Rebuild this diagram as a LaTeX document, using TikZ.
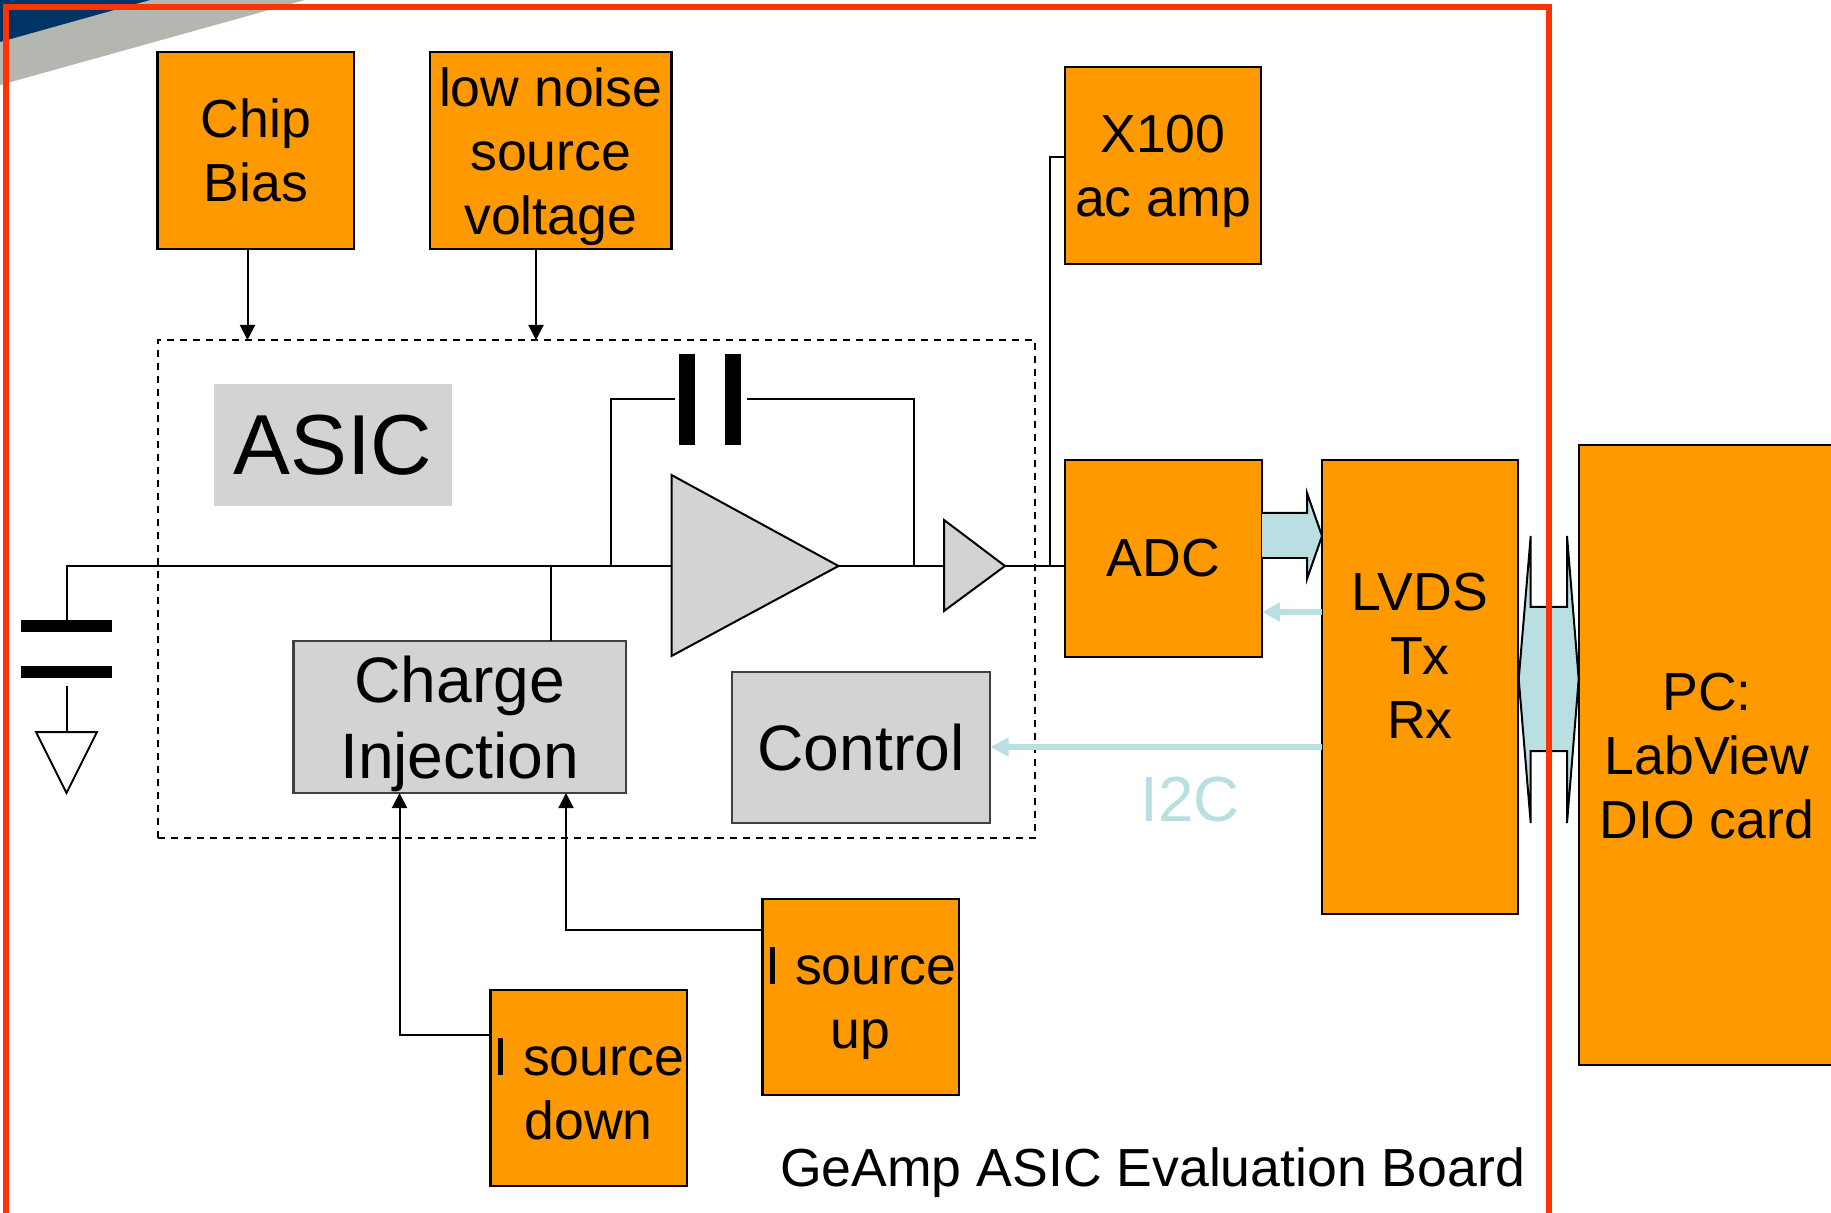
\documentclass[tikz,border=0pt]{standalone}
\usepackage{fontspec}
\setmainfont{Liberation Sans}
\usetikzlibrary{arrows.meta,calc}
\definecolor{boxorange}{HTML}{FF9900}
\definecolor{boxgray}{HTML}{D3D3D3}
\definecolor{palebus}{HTML}{B9DFE3}
\definecolor{framered}{HTML}{FF3300}
\definecolor{navy}{HTML}{003366}
\definecolor{stripe}{HTML}{B4B6B0}
\tikzset{
  x=0.5pt,y=-0.5pt,
  wire/.style={draw=black,line width=1pt},
  tipwire/.style={wire,-{Triangle[length=7.5pt,width=7.5pt]}},
  orangebox/.style={draw=black,line width=1.1pt,fill=boxorange,inner sep=0pt,outer sep=0pt,align=center,font=\fontsize{26.8}{32}\selectfont},
  graybox/.style={draw=black!75,line width=1.1pt,fill=boxgray,inner sep=0pt,outer sep=0pt,align=center,font=\fontsize{32.1}{38}\selectfont},
  bigtext/.style={inner sep=0pt,align=center,font=\fontsize{26.8}{32}\selectfont},
  chargetext/.style={inner sep=0pt,align=center,font=\fontsize{32.1}{38}\selectfont},
  tri/.style={draw=black,line width=1pt,fill=boxgray,line join=miter},
  thinbus/.style={draw=palebus,line width=3pt,-{Triangle[length=9pt,width=9pt]}},
  busarrow/.style={draw=black,line width=1pt,fill=palebus,line join=miter},
  capbar/.style={fill=black},
}
\begin{document}
\begin{tikzpicture}
\useasboundingbox (0,0) rectangle (1831,1213);
% slide background corner
\fill[stripe] (0,0) -- (305,0) -- (0,85) -- cycle;
\fill[navy] (0,0) -- (150,0) -- (0,42) -- cycle;
% dashed ASIC outline
\node[draw=black,line width=0.95pt,dash pattern=on 3.5pt off 3pt,inner sep=0pt,outer sep=0pt,minimum width=438.5pt,minimum height=249pt] (asic) at (596.5,589) {};
\node[fill=boxgray,inner sep=0pt,outer sep=0pt,minimum width=119pt,minimum height=61pt,font=\fontsize{42.6}{50}\selectfont] (asiclabel) at (333,445) {ASIC};
% boxes
\node[orangebox,minimum width=98.25pt,minimum height=98.5pt] (chip) at (255.75,150.5) {Chip\\Bias};
\node[orangebox,minimum width=120.75pt,minimum height=98.5pt] (noise) at (550.75,150.5) {};
\node[bigtext] (noisetext) at (550.75,156.5) {low noise\\source\\voltage};
\node[orangebox,minimum width=98pt,minimum height=98.5pt] (x100) at (1163,165.5) {};
\node[bigtext] (x100text) at (1163,171.5) {X100\\ac amp};
\node[orangebox,minimum width=98.5pt,minimum height=98.5pt] (adc) at (1163.5,558.5) {ADC};
\node[orangebox,minimum width=98pt,minimum height=227pt] (lvds) at (1420,687) {};
\node[bigtext] (lvdstext) at (1420,656) {LVDS\\Tx\\Rx};
\node[orangebox,minimum width=130pt,minimum height=310pt] (pc) at (1709,755) {};
\node[bigtext] (pctext) at (1707,756) {PC:\\LabView\\DIO card};
\node[graybox,minimum width=166.25pt,minimum height=76pt] (charge) at (459.75,717) {};
\node[chargetext] (chargetext) at (459.75,724) {Charge\\Injection};
\node[graybox,minimum width=129pt,minimum height=75.5pt] (control) at (861,747.5) {Control};
\node[orangebox,minimum width=98.25pt,minimum height=98pt] (isup) at (860.75,997) {};
\node[bigtext] (isuptext) at (860.75,1004) {I source\\up};
\node[orangebox,minimum width=98.25pt,minimum height=98pt] (isdown) at (588.75,1088) {};
\node[bigtext] (isdowntext) at (588.75,1089) {I source\\down};
% amplifiers as named corners
\coordinate (ampA) at (671.5,475);
\coordinate (ampB) at (671.5,656);
\coordinate (ampTip) at (838.5,566);
\coordinate (bufA) at (944,520);
\coordinate (bufB) at (944,611);
\coordinate (bufTip) at (1005,566);
\coordinate (ampIn) at (671.5,566);
\coordinate (bufIn) at (944,566);
% ground and input capacitor
\coordinate (inCorner) at (66.5,566);
\coordinate (capTop) at (66.5,626);
\coordinate (capBot) at (66.5,672);
\coordinate (gndTop) at (66.5,732);
\fill[capbar] (21,620) rectangle (112,632);
\fill[capbar] (21,666) rectangle (112,678);
\draw[wire] (capTop) -- (inCorner) -- (ampIn);
\draw[wire] (capBot) ++(0,14) -- (gndTop);
\draw[line width=1pt,fill=white] (36,732) -- (97,732) -- (66.5,793) -- cycle;
% feedback loop and capacitor
\coordinate (fbLeft) at (611,566);
\coordinate (fbTopL) at (611,399);
\coordinate (fbCapL) at (675,399);
\coordinate (fbCapR) at (747,399);
\coordinate (fbTopR) at (914,399);
\coordinate (fbRight) at (914,566);
\fill[capbar] (678.5,354) rectangle (695,445);
\fill[capbar] (725,354) rectangle (741,445);
\draw[wire] (fbLeft) -- (fbTopL) -- (fbCapL);
\draw[wire] (fbCapR) -- (fbTopR) -- (fbRight);
\draw[wire] (ampTip) -- (bufIn);
\draw[wire] (bufTip) -- (bufTip -| adc.west);
\draw[tri] (ampA) -- (ampB) -- (ampTip) -- cycle;
\draw[tri] (bufA) -- (bufB) -- (bufTip) -- cycle;
% tap to charge injection
\coordinate (tap) at (550.5,566);
\draw[wire] (tap) -- (tap |- charge.north);
% tap to X100
\coordinate (x100tap) at (1050,566);
\coordinate (x100in) at (1065,157.5);
\draw[wire] (x100tap) -- (x100tap |- x100in) -- (x100in);
% bias arrows
\coordinate (chipOut) at (247.5,249);
\coordinate (noiseOut) at (536,249);
\draw[tipwire] (chipOut) -- (chipOut |- asic.north);
\draw[tipwire] (noiseOut) -- (noiseOut |- asic.north);
% current source arrows
\coordinate (dnOut) at (490.5,1034.5);
\coordinate (upOut) at (762.5,929.5);
\coordinate (dnIn) at (399.5,793);
\coordinate (upIn) at (566,793);
\draw[tipwire] (dnOut) -- (dnIn |- dnOut) -- (dnIn);
\draw[tipwire] (upOut) -- (upIn |- upOut) -- (upIn);
% pale buses
\coordinate (backStart) at (1322,612);
\coordinate (backEnd) at (1262,612);
\coordinate (i2cStart) at (1322,747);
\coordinate (i2cEnd) at (990.5,747);
\draw[thinbus] (backStart) -- (backEnd);
\draw[thinbus] (i2cStart) -- (i2cEnd);
\node[inner sep=0pt,text=palebus,font=\fontsize{31.9}{36}\selectfont] (i2c) at (1190,800) {I2C};
% block arrow ADC to LVDS
\draw[busarrow] (1262,513) -- (1307,513) -- (1307,493) -- (1322,536) -- (1307,579) -- (1307,558) -- (1262,558);
\fill[palebus] (1263,514) rectangle (1308,557);
% double arrow LVDS to PC
\draw[busarrow] (1518.7,679) -- (1530.7,536) -- (1530.7,607) -- (1567,607) -- (1567,536) -- (1578.7,679) -- (1567,823) -- (1567,751) -- (1530.7,751) -- (1530.7,823) -- cycle;
% board frame
\draw[framered,line width=3pt] (6,1220) -- (6,7) -- (1549,7) -- (1549,1220);
\node[inner sep=0pt,font=\fontsize{26.8}{32}\selectfont] (board) at (1152.5,1173) {GeAmp ASIC Evaluation Board};
\end{tikzpicture}
\end{document}
